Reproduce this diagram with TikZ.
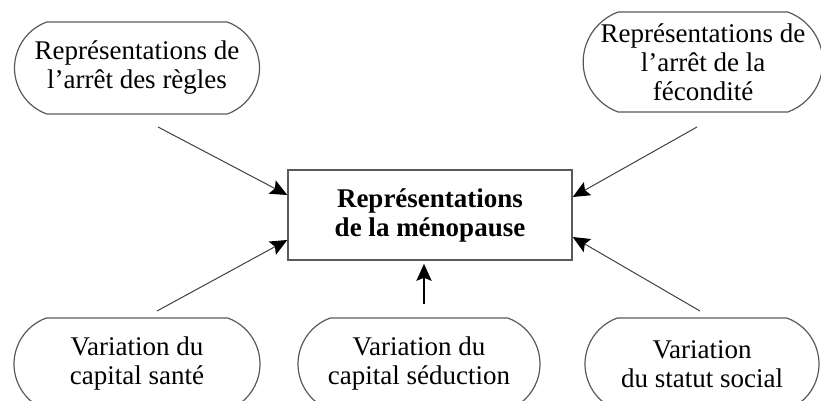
\documentclass[tikz,border=0pt]{standalone}
\usepackage{fontspec}
\setmainfont{Liberation Serif}
\usetikzlibrary{arrows.meta,shapes.misc}

\begin{document}
\begin{tikzpicture}[x=1pt,y=1pt,->,>={Stealth[length=17pt,width=15pt,inset=3pt,color=black]},
                    semithick]
  \tikzstyle{every node}=[font=\fontsize{27}{29}\selectfont,align=center,text=black]
  \tikzstyle{pill}=[draw=black!65,line width=1.2pt,rounded rectangle,
                    rounded rectangle arc length=140,minimum height=92pt,inner sep=1pt]
  \tikzstyle{core}=[draw=black!65,line width=1.4pt,rectangle,minimum width=284pt,
                    minimum height=90pt,font=\fontsize{27}{29}\selectfont\bfseries]
  \tikzstyle{link}=[draw=black!75,line width=1pt]

  \useasboundingbox (0,0) rectangle (821,400);

  \node[core]                                   (M)  at (430,185) {Représentations\\de la ménopause};
  \node[pill,minimum width=247pt]               (RR) at (137,332) {Représentations de\\l’arrêt des règles};
  \node[pill,minimum width=234pt,minimum height=100pt] (RF) at (703,338) {Représentations de\\l’arrêt de la\\fécondité};
  \node[pill,minimum width=248pt]               (VS) at (137,36)  {Variation du\\capital santé};
  \node[pill,minimum width=244pt]               (VC) at (419,36)  {Variation du\\capital séduction};
  \node[pill,minimum width=236pt]               (VT) at (702,36)  {Variation\\du statut social};

  \coordinate (RRt) at (158,273);
  \coordinate (RFt) at (697,273);
  \coordinate (VSt) at (157,89);
  \coordinate (VCt) at (424,96);
  \coordinate (VTt) at (700,89);

  \path (RRt) edge[link] ([yshift=20pt]M.west)
        (VSt) edge[link] ([yshift=-25pt]M.west)
        (RFt) edge[link] ([yshift=18pt]M.east)
        (VTt) edge[link] ([yshift=-22pt]M.east)
        (VCt) edge[line width=2.6pt,shorten >=3pt] (VCt |- M.south);
\end{tikzpicture}
\end{document}
